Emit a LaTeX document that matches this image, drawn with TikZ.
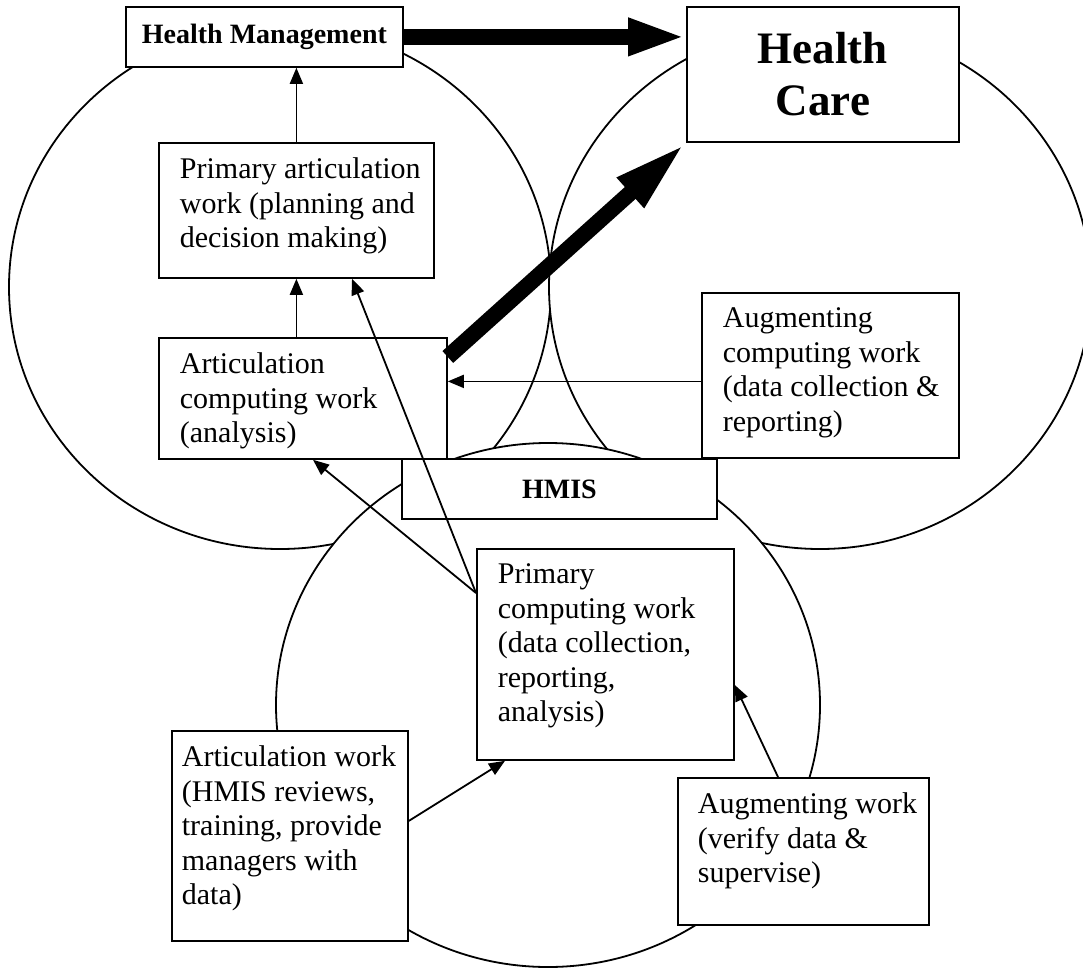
\documentclass[tikz,border=0pt]{standalone}
\usepackage{fontspec}
\setmainfont{Liberation Serif}
\usetikzlibrary{arrows.meta}

\begin{document}
\begin{tikzpicture}[x=1pt, y=-1pt, line width=1.8pt,
  frame/.style={draw, fill=white, anchor=north west, inner sep=0pt},
  worktext/.style={anchor=north west, align=left, inner xsep=21pt, inner ysep=15pt,
    font=\fontsize{30}{34.5}\selectfont},
  thin/.style={-{Triangle[length=16pt, width=13pt]}},
  fat/.style={line width=16pt, -{Triangle[length=58pt, width=34pt]}}]

  \useasboundingbox (0,0) rectangle (1083,968);

  \pgfmathsetmacro{\rx}{271}
  \pgfmathsetmacro{\ry}{262}

  % Draw the three ovals
  \draw[fill=white] (280,287) ellipse [x radius=\rx, y radius=\ry];
  \draw[fill=white] (820,287) ellipse [x radius=\rx, y radius=\ry];
  \draw[fill=white] (548,705) ellipse [x radius=272, y radius=\ry];

  % Titles of the ovals
  \node[frame, minimum width=277pt, minimum height=60pt,
    font=\fontsize{28}{32}\bfseries\selectfont] (hm) at (125,6) {Health Management};
  \node[frame, minimum width=272pt, minimum height=135pt, align=center,
    font=\fontsize{45}{52}\bfseries\selectfont] (hc) at (686,6) {Health\\Care};
  \node[frame, minimum width=315pt, minimum height=60pt,
    font=\fontsize{28}{32}\bfseries\selectfont] (hmis) at (401,458) {HMIS};

  % Boxes of work
  \node[frame, minimum width=275pt, minimum height=135pt] (pa) at (158,142) {};
  \node[worktext] (pa-text) at (pa.north west)
    {Primary articulation\\work (planning and\\decision making)};

  \node[frame, minimum width=288pt, minimum height=121pt] (ac) at (158,337) {};
  \node[worktext] (ac-text) at (ac.north west)
    {Articulation\\computing work\\(analysis)};

  \node[frame, minimum width=257pt, minimum height=165pt] (acw) at (701,292) {};
  \node[worktext] (acw-text) at (acw.north west)
    {Augmenting\\computing work\\(data collection \&\\reporting)};

  \node[frame, minimum width=257pt, minimum height=211pt] (pc) at (476,548) {};
  \node[worktext] (pc-text) at (pc.north west)
    {Primary\\computing work\\(data collection,\\reporting,\\analysis)};

  \node[frame, minimum width=236pt, minimum height=210pt] (aw) at (171,730) {};
  \node[worktext, inner xsep=10pt] (aw-text) at (aw.north west)
    {Articulation work\\(HMIS reviews,\\training, provide\\managers with\\data)};

  \node[frame, minimum width=251pt, minimum height=147pt] (auw) at (677,777) {};
  \node[worktext, inner xsep=20pt] (auw-text) at (auw.north west)
    {Augmenting work\\(verify data \&\\supervise)};

  % Thin arrows
  \draw[thin] (pa.north) -- (pa.north |- hm.south);
  \draw[thin] (pa.south |- ac.north) -- (pa.south);
  \draw[thin] ([yshift=-6pt]acw.west) -- ([yshift=-6pt]acw.west -| ac.east);

  \coordinate (src) at ([yshift=-45pt]pc.north west);
  \draw[thin] (src) -- ([xshift=155pt]ac.south west);
  \draw[thin] (src) -- ([xshift=194pt]pa.south west);

  \draw[thin] ([yshift=15pt]aw.east) -- ([xshift=29pt]pc.south west);
  \draw[thin] ([xshift=101pt]auw.north west) -- ([yshift=-137pt]pc.north east);

  % Fat arrows to health care
  \draw[fat] (hm.east) -- (hm.east -| hc.west);
  \draw[fat, -{Triangle[length=75pt, width=36pt]}]
    ([yshift=-20pt]ac.north east) -- (hc.south west);

\end{tikzpicture}
\end{document}
